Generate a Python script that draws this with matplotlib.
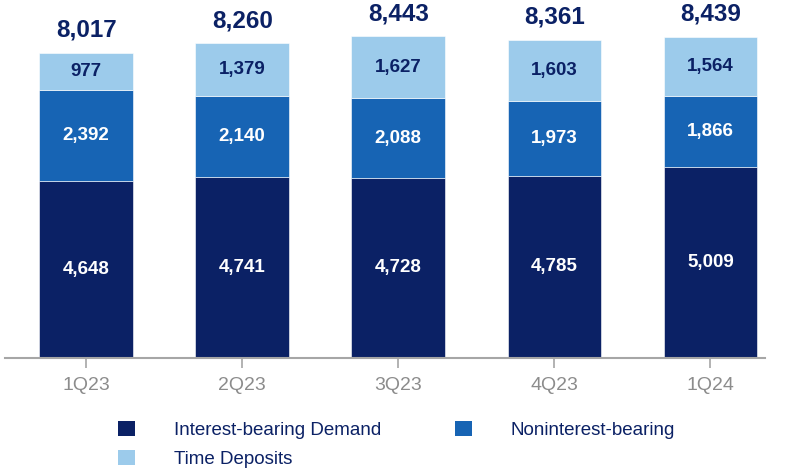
import matplotlib
matplotlib.use("Agg")
import matplotlib.pyplot as plt
from matplotlib.patches import Patch
import numpy as np

plt.rcParams['font.family'] = ['Liberation Sans', 'DejaVu Sans']

quarters = ['1Q23', '2Q23', '3Q23', '4Q23', '1Q24']
interest_demand = [4648, 4741, 4728, 4785, 5009]
noninterest = [2392, 2140, 2088, 1973, 1866]
time_deposits = [977, 1379, 1627, 1603, 1564]
totals = [8017, 8260, 8443, 8361, 8439]

series_names = ['Interest-bearing Demand', 'Noninterest-bearing', 'Time Deposits']
colors = ['#0b2165', '#1764b4', '#9ccbeb']
label_colors = ['white', 'white', '#0b2165']

fig = plt.figure(figsize=(7.92, 4.69), dpi=100)
ax = fig.add_axes([0.0063, 0.2367, 0.9597, 0.7633])

x = np.arange(len(quarters))
bottom = np.zeros(len(quarters))
for vals, col, lc in zip([interest_demand, noninterest, time_deposits], colors, label_colors):
    ax.bar(x, vals, width=0.6, bottom=bottom, color=col, edgecolor='white', linewidth=0.4)
    for xi, b, v in zip(x, bottom, vals):
        ax.text(xi, b + v / 2, f'{v:,}', ha='center', va='center', color=lc,
                fontsize=13.5, fontweight='bold')
    bottom += vals

for xi, top, t in zip(x, bottom, totals):
    ax.annotate(f'{t:,}', (xi, top), xytext=(0, 8), textcoords='offset points',
                ha='center', va='bottom', color='#0b2165', fontsize=17.5, fontweight='bold')

ax.set_xlim(-0.52, 4.35)
ax.set_ylim(0, 9400)
for s in ['top', 'right', 'left']:
    ax.spines[s].set_visible(False)
ax.spines['bottom'].set_color('#a6a6a6')
ax.spines['bottom'].set_linewidth(1.5)
ax.set_yticks([])
ax.set_xticks(x)
ax.set_xticklabels(quarters)
ax.tick_params(axis='x', colors='#a6a6a6', length=7, width=1.2, pad=7, labelsize=14)
for lbl in ax.get_xticklabels():
    lbl.set_color('#8c8c8c')

handles = [Patch(facecolor=c) for c in colors]
order = [0, 2, 1]
fig.legend([handles[i] for i in order], [series_names[i] for i in order],
           ncol=2, loc='upper left', bbox_to_anchor=(0.149, 0.103),
           frameon=False, fontsize=13.5, labelcolor='#0b2165',
           handlelength=0.9, handleheight=0.9, handletextpad=2.1,
           columnspacing=3.9, labelspacing=0.58, borderaxespad=0, borderpad=0)

fig.savefig('out.png', dpi=100)
